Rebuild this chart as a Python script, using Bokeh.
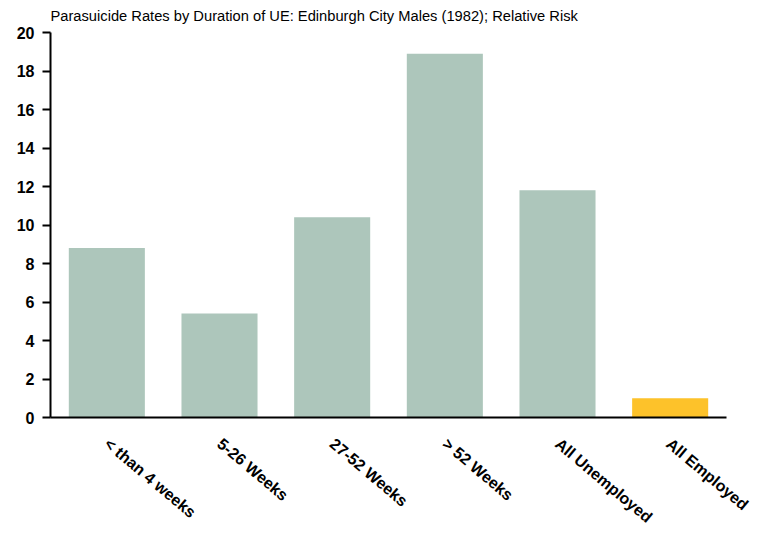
import math
from bokeh.plotting import figure
from bokeh.models import ColumnDataSource, Range1d, FixedTicker
from bokeh.embed import file_html
from bokeh.resources import INLINE

title_text = "Parasuicide Rates by Duration of UE: Edinburgh City Males (1982); Relative Risk"
categories = ["< than 4 weeks", "5-26 Weeks", "27-52 Weeks", "> 52 Weeks", "All Unemployed", "All Employed"]
values = [8.8, 5.4, 10.4, 18.9, 11.8, 1.0]
colors = ["#adc6bb", "#adc6bb", "#adc6bb", "#adc6bb", "#adc6bb", "#fdc22a"]
y_ticks = [0, 2, 4, 6, 8, 10, 12, 14, 16, 18, 20]

src = ColumnDataSource(dict(cat=categories, val=values, col=colors))

p = figure(x_range=categories, y_range=Range1d(0, 20),
           frame_width=676, frame_height=385,
           output_backend="svg", toolbar_location=None, title=title_text,
           min_border_left=50, min_border_right=25, min_border_top=32, min_border_bottom=100)
p.x_range.range_padding = 0
p.vbar(x="cat", top="val", width=0.675, fill_color="col", line_color=None, source=src)

p.title.text_font = "Liberation Sans"
p.title.text_font_size = "14.7px"
p.title.text_font_style = "normal"
p.title.text_color = "#000000"
p.title.vertical_align = "top"
p.title.align = "left"
p.title.offset = 0
p.title.standoff = 14

p.xgrid.grid_line_color = None
p.ygrid.grid_line_color = None
p.outline_line_color = None
p.background_fill_color = "white"

p.yaxis.ticker = FixedTicker(ticks=y_ticks)
p.yaxis.minor_tick_line_color = None
p.yaxis.major_tick_out = 8
p.yaxis.major_tick_in = 0
p.yaxis.major_tick_line_width = 2
p.yaxis.axis_line_width = 2
p.yaxis.major_label_text_font = "Liberation Sans"
p.yaxis.major_label_text_font_style = "bold"
p.yaxis.major_label_text_font_size = "16px"
p.yaxis.major_label_text_color = "black"
p.yaxis.major_label_standoff = 8
p.yaxis.axis_line_color = "black"
p.yaxis.major_tick_line_color = "black"

p.xaxis.axis_line_width = 2
p.xaxis.axis_line_color = "black"
p.xaxis.major_tick_line_color = None
p.xaxis.minor_tick_line_color = None
p.xaxis.major_label_orientation = -0.7
p.xaxis.major_label_text_font = "Liberation Sans"
p.xaxis.major_label_text_font_style = "bold"
p.xaxis.major_label_text_font_size = "16px"
p.xaxis.major_label_text_color = "black"
p.xaxis.major_label_standoff = 18

open("out.html", "w").write(file_html(p, INLINE))
